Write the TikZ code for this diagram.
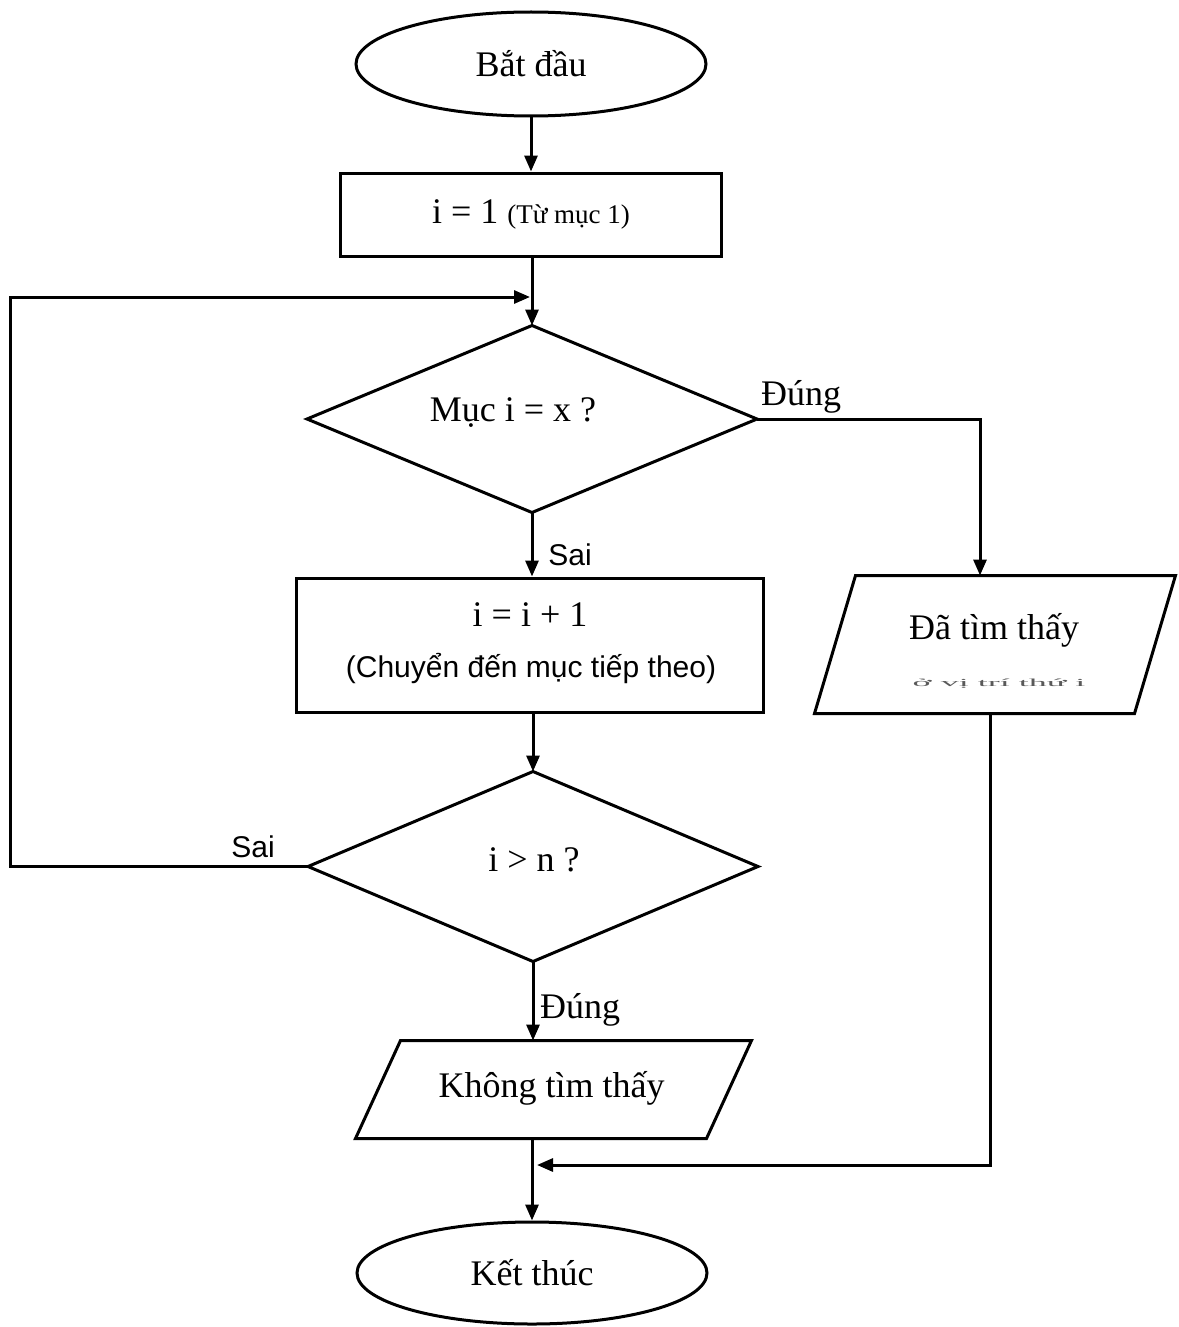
\documentclass[tikz,border=0pt]{standalone}
\usepackage{fontspec}
\usepackage{graphicx}
\setmainfont{Liberation Serif}
\setsansfont{Liberation Sans}
\usetikzlibrary{shapes.geometric,arrows.meta}
\begin{document}
\begin{tikzpicture}[x=1pt,y=-1pt,
  line width=3pt,
  arr/.style={-{Triangle[length=16pt,width=13pt]}},
  serif/.style={font=\fontsize{36}{40}\selectfont},
  sans/.style={font=\sffamily\fontsize{30}{34}\selectfont},
  term/.style={draw, ellipse, minimum width=350pt, minimum height=104pt, inner sep=0pt, serif},
  box/.style={draw, rectangle, inner sep=0pt},
  frame/.style={rectangle, inner sep=0pt},
  txt/.style={inner sep=0pt, anchor=center},
]
\useasboundingbox (0,0) rectangle (1178,1327);
\fill[white] (0,0) rectangle (1178,1327);

% terminals
\node[term] (start) at (531,64) {Bắt đầu};
\node[term, minimum height=102pt] (stop) at (532,1273) {Kết thúc};

% initialisation
\node[box, minimum width=381pt, minimum height=83pt] (init) at (531,214.5)
  {\fontsize{36}{40}\selectfont i = 1 \fontsize{27}{30}\selectfont(Từ mục 1)};

% first decision
\node[frame, minimum width=447pt, minimum height=184pt] (test) at (532,419) {};
\draw (test.north) -- (test.east) -- (test.south) -- (test.west) -- cycle;
\node[txt, serif] (testlbl) at (513,413) {Mục i = x ?};

% increment step
\node[box, minimum width=467pt, minimum height=134pt] (step1) at (529.5,645) {};
\node[txt, serif] (steplbl) at (530,615) {i = i + 1};
\node[txt, sans] (stepnote) at (531,668) {(Chuyển đến mục tiếp theo)};

% second decision
\node[frame, minimum width=447pt, minimum height=187pt] (check) at (533,866.5) {};
\draw (check.north) -- (check.east) -- (check.south) -- (check.west) -- cycle;
\node[txt, serif] (checklbl) at (534,860) {i > n ?};

% output: found
\node[frame, minimum width=358pt, minimum height=135pt] (found) at (995,644.5) {};
\draw ([xshift=41pt]found.north west) -- (found.north east)
  -- ([xshift=-41pt]found.south east) -- (found.south west) -- cycle;
\node[txt, serif] (foundlbl) at (994,630) {Đã tìm thấy};
\node[txt, text=black!65] (foundnote) at (999,684)
  {\scalebox{1}[0.3]{\fontsize{36}{40}\selectfont ở vị trí thứ i}};

% output: not found
\node[frame, minimum width=393pt, minimum height=95pt] (notfound) at (553.5,1089.5) {};
\draw ([xshift=45pt]notfound.north west) -- (notfound.north east)
  -- ([xshift=-45pt]notfound.south east) -- (notfound.south west) -- cycle;
\node[txt, serif] (notfoundlbl) at (551.5,1088) {Không tìm thấy};

% junction points on the main line
\coordinate (loopin) at (530,297);
\coordinate (joinpt) at (537,1165);

% connectors
\draw[arr] (start.south) -- (start.south |- init.north);
\draw[arr] (test.north |- init.south) -- (test.north);
\draw[arr] (test.south) -- (test.south |- step1.north);
\draw[arr] (check.north |- step1.south) -- (check.north);
\draw[arr] (check.south) -- (check.south |- notfound.north);
\draw[arr] (stop.north |- notfound.south) -- (stop.north);
\draw[arr] (check.west) -- ++(-298,0) |- (loopin);
\draw[arr] (test.east) -| ([xshift=-15pt]found.north);
\draw[arr] ([xshift=-5pt]found.south) |- (joinpt);

% branch labels
\node[txt, serif] (yes1) at (801,397) {Đúng};
\node[txt, sans] (no1) at (570,555) {Sai};
\node[txt, sans] (no2) at (253,847) {Sai};
\node[txt, serif] (yes2) at (580,1010) {Đúng};
\end{tikzpicture}
\end{document}
